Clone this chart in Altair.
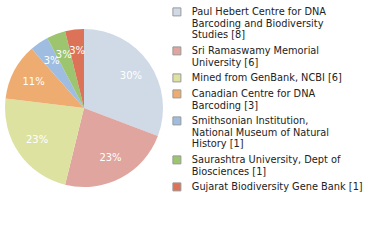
import altair as alt
import pandas as pd

labels = [
    "Paul Hebert Centre for DNA|Barcoding and Biodiversity|Studies [8]",
    "Sri Ramaswamy Memorial|University [6]",
    "Mined from GenBank, NCBI [6]",
    "Canadian Centre for DNA|Barcoding [3]",
    "Smithsonian Institution,|National Museum of Natural|History [1]",
    "Saurashtra University, Dept of|Biosciences [1]",
    "Gujarat Biodiversity Gene Bank [1]",
]
counts = [8, 6, 6, 3, 1, 1, 1]
colors = ["#cfdae6", "#dfa59e", "#dde2a0", "#eeac70", "#9ebde0", "#9dc46e", "#dc7358"]

df = pd.DataFrame({"label": labels, "count": counts, "order": list(range(len(labels)))})

FONT = "DejaVu Sans"

base = alt.Chart(df).transform_joinaggregate(
    total="sum(count)"
).transform_calculate(
    pct="floor(datum.count / datum.total * 100) + '%'"
).encode(
    theta=alt.Theta("count:Q", stack=True),
    order=alt.Order("order:Q"),
)

pie = base.mark_arc(outerRadius=79).encode(
    x=alt.value(84),
    y=alt.value(108),
    color=alt.Color(
        "label:N",
        sort=labels,
        scale=alt.Scale(domain=labels, range=colors),
        legend=alt.Legend(
            title=None,
            orient="none",
            legendX=172,
            legendY=7,
            labelExpr="split(datum.label, '|')",
            labelFont=FONT,
            labelFontSize=9.8,
            labelColor="#222",
            labelLimit=300,
            symbolType="square",
            symbolSize=64,
            symbolStrokeWidth=1,
            symbolStrokeColor="#999",
            rowPadding=3,
            labelOffset=10,
        ),
    ),
)

text = base.mark_text(radius=57, font=FONT, fontSize=10, color="white").encode(
    x=alt.value(84),
    y=alt.value(108),
    text="pct:N",
)

chart = (pie + text).properties(
    width=380, height=240, autosize=alt.AutoSizeParams(type="none"), padding=0
).configure_view(stroke=None)

chart.save("out.html", embed_options={"renderer": "svg", "actions": False})
